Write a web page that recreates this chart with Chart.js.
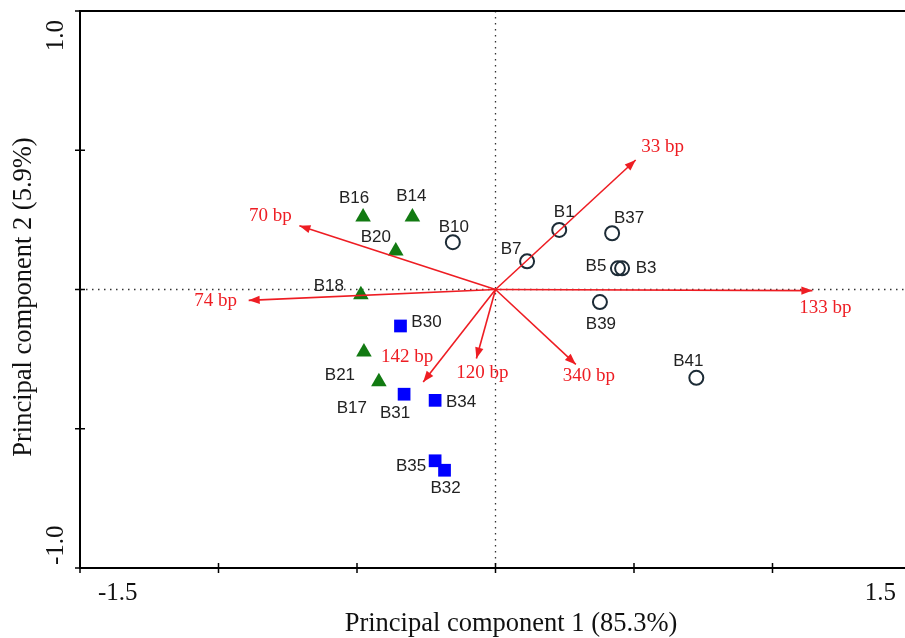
<!DOCTYPE html>
<html>
<head>
<meta charset="utf-8">
<script src="https://cdn.jsdelivr.net/npm/chart.js@4/dist/chart.umd.min.js"></script>
<style>
  html, body { margin: 0; padding: 0; background: #fff; overflow: hidden; }
  canvas { display: block; }
</style>
</head>
<body>
<canvas id="pcaChart" width="920" height="638"></canvas>
<script>
// samples, grouped by marker
const triangleNames = ['B16', 'B14', 'B20', 'B18', 'B21', 'B17']
const triangleX = [-0.478, -0.300, -0.360, -0.486, -0.475, -0.421]
const triangleY = [0.260, 0.260, 0.138, -0.019, -0.224, -0.331]

const squareNames = ['B30', 'B31', 'B34', 'B35', 'B32']
const squareX = [-0.343, -0.330, -0.218, -0.218, -0.184]
const squareY = [-0.131, -0.376, -0.398, -0.615, -0.649]

const circleNames = ['B10', 'B7', 'B1', 'B37', 'B5', 'B3', 'B39', 'B41']
const circleX = [-0.154, 0.114, 0.230, 0.421, 0.442, 0.457, 0.377, 0.725]
const circleY = [0.170, 0.101, 0.214, 0.202, 0.076, 0.076, -0.045, -0.317]

// loading vectors (fragment sizes)
const vectorNames = ['33 bp', '70 bp', '74 bp', '133 bp', '340 bp', '142 bp', '120 bp']
const vectorX = [0.506, -0.708, -0.891, 1.144, 0.290, -0.261, -0.069]
const vectorY = [0.465, 0.229, -0.039, -0.004, -0.269, -0.332, -0.248]

const xTickLabels = ['-1.5', '1.5']
const yTickLabels = ['1.0', '-1.0']
const xTitle = 'Principal component 1 (85.3%)'
const yTitle = 'Principal component 2 (5.9%)'

// label nudges in pixels (dx, dy from the mark)
const labelNudge = {
  B16: [-9, -19], B14: [-1, -21], B20: [-20, -14], B18: [-32, -8], B21: [-24, 23], B17: [-27, 27],
  B30: [26, -4], B31: [-9, 19], B34: [26, 2], B35: [-24, 6], B32: [1, 18],
  B10: [1, -15], B7: [-16, -12], B1: [5, -18], B37: [17, -15], B5: [-22, -2], B3: [24, 0],
  B39: [1, 22], B41: [-8, -16],
  '33 bp': [27, -13], '70 bp': [-29, -10], '74 bp': [-33, 1], '133 bp': [13, 17],
  '340 bp': [13, 12], '142 bp': [-16, -25], '120 bp': [6, 14]
}

const RED = '#ee1d23'
const SERIF = '"Liberation Serif", "Times New Roman", serif'
const SANS = '"Liberation Sans", Arial, sans-serif'

const toPoints = (xs, ys) => xs.map((x, i) => ({ x: x, y: ys[i] }))

const vectorDatasets = vectorNames.map((name, i) => ({
  type: 'line',
  label: name,
  data: [{ x: 0, y: 0 }, { x: vectorX[i], y: vectorY[i] }],
  borderColor: RED,
  borderWidth: 1.6,
  pointRadius: 0,
  isVector: true
}))

const sampleDatasets = [
  {
    label: 'triangles', names: triangleNames, data: toPoints(triangleX, triangleY),
    pointStyle: 'triangle', pointRadius: 9, backgroundColor: '#127a12', borderColor: '#127a12', borderWidth: 0
  },
  {
    label: 'squares', names: squareNames, data: toPoints(squareX, squareY),
    pointStyle: 'rect', pointRadius: 9, backgroundColor: '#0000ff', borderColor: '#0000ff', borderWidth: 0
  },
  {
    label: 'circles', names: circleNames, data: toPoints(circleX, circleY),
    pointStyle: 'circle', pointRadius: 7, backgroundColor: 'rgba(0,0,0,0)', borderColor: '#1c2b36', borderWidth: 2
  }
]

const decorations = {
  id: 'decorations',
  beforeDatasetsDraw(chart) {
    const ctx = chart.ctx
    const a = chart.chartArea
    const x0 = chart.scales.x.getPixelForValue(0)
    const y0 = chart.scales.y.getPixelForValue(0)
    ctx.save()
    ctx.strokeStyle = '#333'
    ctx.lineWidth = 1.3
    ctx.setLineDash([1.5, 4.5])
    ctx.beginPath()
    ctx.moveTo(a.left, y0); ctx.lineTo(a.right, y0)
    ctx.moveTo(x0, a.top); ctx.lineTo(x0, a.bottom)
    ctx.stroke()
    ctx.restore()
  },
  afterDatasetsDraw(chart) {
    const ctx = chart.ctx
    ctx.save()
    chart.data.datasets.forEach((ds, di) => {
      const meta = chart.getDatasetMeta(di)
      if (ds.isVector) {
        const p0 = meta.data[0], p1 = meta.data[1]
        const ang = Math.atan2(p1.y - p0.y, p1.x - p0.x)
        const len = 11, half = 4.2
        ctx.fillStyle = RED
        ctx.beginPath()
        ctx.moveTo(p1.x, p1.y)
        ctx.lineTo(p1.x - len * Math.cos(ang) + half * Math.sin(ang), p1.y - len * Math.sin(ang) - half * Math.cos(ang))
        ctx.lineTo(p1.x - len * Math.cos(ang) - half * Math.sin(ang), p1.y - len * Math.sin(ang) + half * Math.cos(ang))
        ctx.closePath()
        ctx.fill()
        const n = labelNudge[ds.label] || [0, 0]
        ctx.font = '19px ' + SERIF
        ctx.textAlign = 'center'
        ctx.textBaseline = 'middle'
        ctx.fillText(ds.label, p1.x + n[0], p1.y + n[1])
      } else {
        ctx.fillStyle = '#222'
        ctx.font = '17px ' + SANS
        ctx.textAlign = 'center'
        ctx.textBaseline = 'middle'
        meta.data.forEach((pt, i) => {
          const name = ds.names[i]
          const n = labelNudge[name] || [0, 0]
          ctx.fillText(name, pt.x + n[0], pt.y + n[1])
        })
      }
    })
    ctx.restore()
  },
  afterDraw(chart) {
    const ctx = chart.ctx
    const a = chart.chartArea
    const xs = chart.scales.x, ys = chart.scales.y
    ctx.save()
    // top frame line
    ctx.strokeStyle = '#000'
    ctx.lineWidth = 2
    ctx.beginPath()
    ctx.moveTo(a.left - 1, a.top); ctx.lineTo(a.right, a.top)
    ctx.stroke()
    // tick marks crossing the axes
    ctx.lineWidth = 1.5
    ctx.beginPath()
    xs.ticks.forEach(t => {
      const px = xs.getPixelForValue(t.value)
      ctx.moveTo(px, a.bottom - 5); ctx.lineTo(px, a.bottom + 5)
    })
    ys.ticks.forEach(t => {
      const py = ys.getPixelForValue(t.value)
      ctx.moveTo(a.left - 5, py); ctx.lineTo(a.left + 5, py)
    })
    ctx.stroke()
    // end tick labels, set inside the ends
    ctx.fillStyle = '#111'
    ctx.font = '25px ' + SERIF
    ctx.textBaseline = 'middle'
    ctx.textAlign = 'left'
    ctx.fillText(xTickLabels[0], xs.getPixelForValue(xs.min) + 18, a.bottom + 25)
    ctx.textAlign = 'right'
    ctx.fillText(xTickLabels[1], xs.getPixelForValue(xs.max) - 15, a.bottom + 25)
    ctx.save()
    ctx.translate(a.left - 24, ys.getPixelForValue(ys.max) + 9)
    ctx.rotate(-Math.PI / 2)
    ctx.textAlign = 'right'
    ctx.fillText(yTickLabels[0], 0, 0)
    ctx.restore()
    ctx.save()
    ctx.translate(a.left - 24, ys.getPixelForValue(ys.min) - 3)
    ctx.rotate(-Math.PI / 2)
    ctx.textAlign = 'left'
    ctx.fillText(yTickLabels[1], 0, 0)
    ctx.restore()
    // axis titles
    ctx.font = '26.5px ' + SERIF
    ctx.textAlign = 'center'
    ctx.fillText(xTitle, 511, a.bottom + 56)
    ctx.save()
    ctx.translate(24, 297)
    ctx.rotate(-Math.PI / 2)
    ctx.fillText(yTitle, 0, 0)
    ctx.restore()
    ctx.restore()
  }
}

const makeChart = () => {
  const ctx = document.getElementById('pcaChart').getContext('2d')
  return new Chart(ctx, {
    type: 'scatter',
    data: { datasets: vectorDatasets.concat(sampleDatasets) },
    options: {
      responsive: false,
      animation: false,
      layout: { padding: { left: 0, top: 11, right: 7, bottom: 0 } },
      plugins: { legend: { display: false }, tooltip: { enabled: false } },
      scales: {
        x: {
          type: 'linear', min: -1.5, max: 1.5,
          ticks: { display: false, stepSize: 0.5 },
          grid: { display: false },
          border: { display: true, color: '#000', width: 2 },
          afterFit: s => { s.height = 70 }
        },
        y: {
          type: 'linear', min: -1, max: 1,
          ticks: { display: false, stepSize: 0.5 },
          grid: { display: false },
          border: { display: true, color: '#000', width: 2 },
          afterFit: s => { s.width = 80 }
        }
      }
    },
    plugins: [decorations]
  })
}

makeChart()
</script>
</body>
</html>
